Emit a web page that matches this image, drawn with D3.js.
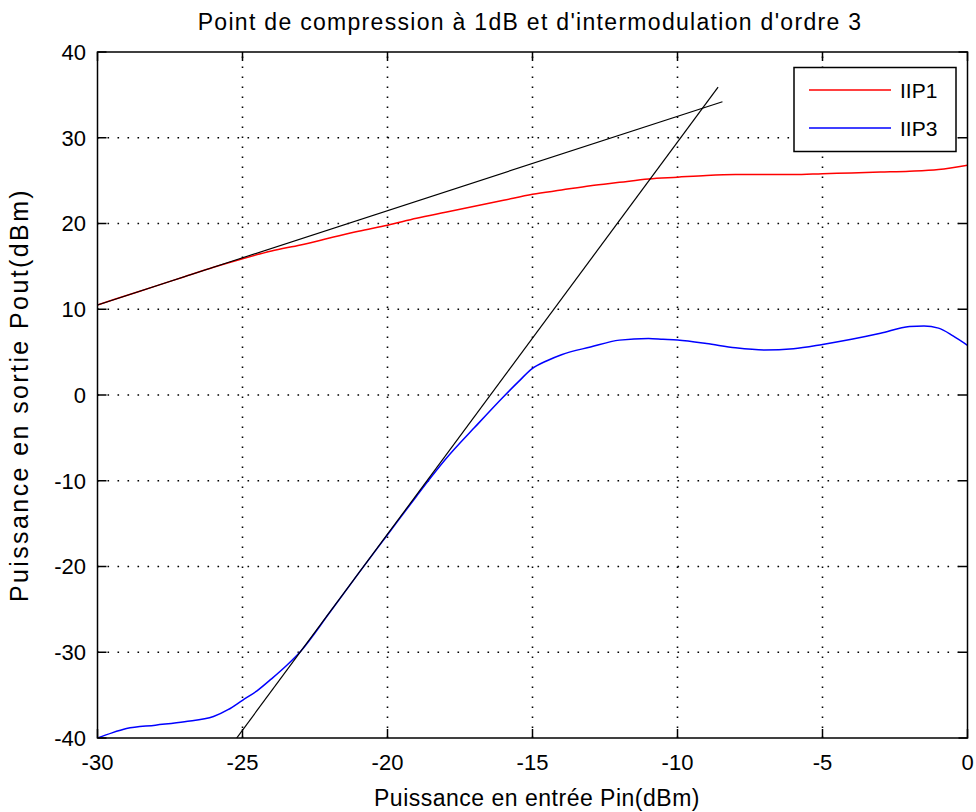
<!DOCTYPE html>
<html><head><meta charset="utf-8">
<script src="https://cdn.jsdelivr.net/npm/d3@7"></script>
<style>body{margin:0;background:#fff}svg{display:block}text{font-family:"Liberation Sans",Arial,sans-serif;fill:#000}</style>
</head><body>
<script>
const xTicks = [-30, -25, -20, -15, -10, -5, 0];
const yTicks = [-40, -30, -20, -10, 0, 10, 20, 30, 40];

const iip1X = [-30, -29, -28, -27, -26, -25, -24, -23, -22, -21, -20, -19, -18, -17, -16, -15, -14, -13, -12, -11, -10, -9, -8, -7, -6, -5, -4, -3, -2, -1, 0];
const iip1Y = [10.5, 11.6, 12.7, 13.8, 14.9, 15.9, 16.8, 17.5, 18.3, 19.1, 19.8, 20.6, 21.3, 22.0, 22.7, 23.4, 23.9, 24.4, 24.8, 25.2, 25.4, 25.6, 25.7, 25.7, 25.7, 25.8, 25.9, 26.0, 26.1, 26.3, 26.8];

const iip3X = [-30, -29.5, -29, -28, -27, -26, -25.5, -25, -24.5, -24, -23.5, -23, -22, -21, -20, -19, -18.5, -18, -17, -16, -15.5, -15, -14.5, -14, -13, -12, -11, -10.5, -10, -9, -8, -7, -6, -5, -4, -3, -2, -1.5, -1, -0.5, 0];
const iip3Y = [-40, -39.4, -38.9, -38.5, -38.1, -37.5, -36.7, -35.6, -34.5, -33.1, -31.6, -29.9, -25.4, -20.8, -16.3, -11.8, -9.6, -7.5, -3.8, -0.2, 1.5, 3.1, 4.0, 4.7, 5.6, 6.4, 6.6, 6.5, 6.4, 6.0, 5.5, 5.25, 5.4, 5.9, 6.5, 7.2, 8.0, 8.05, 7.8, 6.9, 5.8];

const tangent1X = [-30, -8.45];
const tangent1Y = [10.5, 34.2];
const tangent3X = [-25.2, -8.6];
const tangent3Y = [-40, 35.9];

const seriesNames = ["IIP1", "IIP3"];
const seriesColors = ["#ff0000", "#0000ff"];

const W = 976, H = 812;
const L = 97.5, R = 967.5, T = 52, B = 738;

const svg = d3.select("body").append("svg").attr("width", W).attr("height", H);
const x = d3.scaleLinear().domain([-30, 0]).range([L, R]);
const y = d3.scaleLinear().domain([-40, 40]).range([B, T]);

// grid
const grid = svg.append("g").attr("stroke", "#000").attr("stroke-width", 1.6).attr("stroke-dasharray", "1.6,8.4").attr("stroke-linecap", "butt");
xTicks.slice(1, -1).forEach(v => grid.append("line").attr("x1", x(v)).attr("x2", x(v)).attr("y1", B).attr("y2", T));
yTicks.slice(1, -1).forEach(v => grid.append("line").attr("y1", y(v)).attr("y2", y(v)).attr("x1", L).attr("x2", R));

svg.append("clipPath").attr("id", "c").append("rect").attr("x", L).attr("y", T).attr("width", R - L).attr("height", B - T);
const plot = svg.append("g").attr("clip-path", "url(#c)");

const line = d3.line().x(d => x(d[0])).y(d => y(d[1])).curve(d3.curveMonotoneX);
const lin = d3.line().x(d => x(d[0])).y(d => y(d[1]));

plot.append("path").datum(iip1X.map((v, i) => [v, iip1Y[i]])).attr("d", line).attr("fill", "none").attr("stroke", seriesColors[0]).attr("stroke-width", 1.5);
plot.append("path").datum(iip3X.map((v, i) => [v, iip3Y[i]])).attr("d", line).attr("fill", "none").attr("stroke", seriesColors[1]).attr("stroke-width", 1.5);
plot.append("path").datum(tangent1X.map((v, i) => [v, tangent1Y[i]])).attr("d", lin).attr("fill", "none").attr("stroke", "#000").attr("stroke-width", 1.2);
plot.append("path").datum(tangent3X.map((v, i) => [v, tangent3Y[i]])).attr("d", lin).attr("fill", "none").attr("stroke", "#000").attr("stroke-width", 1.2);

// axes frame and ticks
const tl = 9;
const ax = svg.append("g").attr("stroke", "#000").attr("stroke-width", 1.5);
ax.append("rect").attr("x", L).attr("y", T).attr("width", R - L).attr("height", B - T).attr("fill", "none");
xTicks.forEach(v => {
  ax.append("line").attr("x1", x(v)).attr("x2", x(v)).attr("y1", B).attr("y2", B - tl);
  ax.append("line").attr("x1", x(v)).attr("x2", x(v)).attr("y1", T).attr("y2", T + tl);
});
yTicks.forEach(v => {
  ax.append("line").attr("y1", y(v)).attr("y2", y(v)).attr("x1", L).attr("x2", L + tl);
  ax.append("line").attr("y1", y(v)).attr("y2", y(v)).attr("x1", R).attr("x2", R - tl);
});

const fs = 22;
xTicks.forEach(v => svg.append("text").attr("x", x(v)).attr("y", 770).attr("text-anchor", "middle").attr("font-size", fs).text(v));
yTicks.forEach(v => svg.append("text").attr("x", 86).attr("y", y(v)).attr("dy", "0.36em").attr("text-anchor", "end").attr("font-size", fs).text(v));

svg.append("text").attr("x", 530).attr("y", 30).attr("text-anchor", "middle").attr("font-size", 23).attr("letter-spacing", 1.3).text("Point de compression à 1dB et d'intermodulation d'ordre 3");
svg.append("text").attr("x", 537).attr("y", 806).attr("text-anchor", "middle").attr("font-size", 23).attr("letter-spacing", 0.5).text("Puissance en entrée Pin(dBm)");
svg.append("text").attr("transform", "translate(28,395) rotate(-90)").attr("text-anchor", "middle").attr("font-size", 25).attr("letter-spacing", 2.4).text("Puissance en sortie Pout(dBm)");

// legend
const lg = svg.append("g");
lg.append("rect").attr("x", 794).attr("y", 67.5).attr("width", 162).attr("height", 84).attr("fill", "#fff").attr("stroke", "#000").attr("stroke-width", 1.5);
seriesNames.forEach((n, i) => {
  const yy = 90 + i * 38;
  lg.append("line").attr("x1", 809).attr("x2", 891).attr("y1", yy).attr("y2", yy).attr("stroke", seriesColors[i]).attr("stroke-width", 1.5);
  lg.append("text").attr("x", 900).attr("y", yy).attr("dy", "0.36em").attr("font-size", 21).text(n);
});
</script>
</body></html>
